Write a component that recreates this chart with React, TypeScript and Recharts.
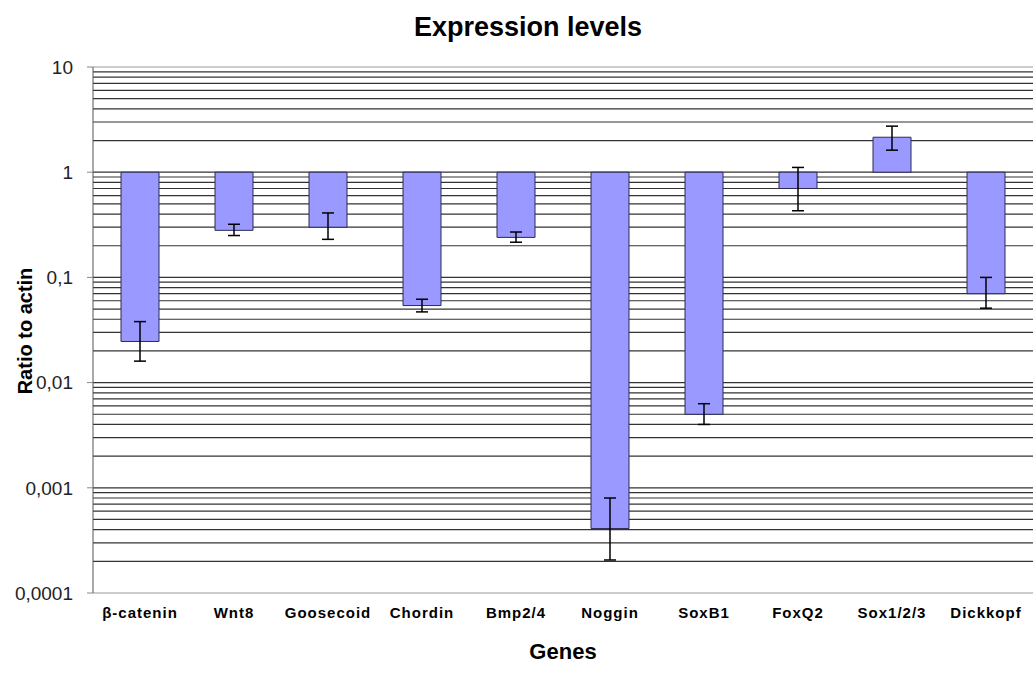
import { ComposedChart, Bar, ErrorBar, XAxis, YAxis, CartesianGrid, ReferenceLine } from "recharts";

const genes = ["β-catenin", "Wnt8", "Goosecoid", "Chordin", "Bmp2/4", "Noggin", "SoxB1", "FoxQ2", "Sox1/2/3", "Dickkopf"];
const ratios = [0.0246, 0.28, 0.30, 0.054, 0.24, 0.00041, 0.0050, 0.70, 2.15, 0.070];
const errLow = [0.016, 0.25, 0.23, 0.047, 0.216, 0.000206, 0.0040, 0.43, 1.62, 0.051];
const errHigh = [0.038, 0.32, 0.41, 0.062, 0.27, 0.0008, 0.0063, 1.11, 2.74, 0.10];

const majorTicks = [0.0001, 0.001, 0.01, 0.1, 1, 10];
const decades = [0.0001, 0.001, 0.01, 0.1, 1];
const multipliers = [1, 2, 3, 4, 5, 6, 7, 8, 9];

// minor gridlines (every 1..9 x decade), the bottom one is the axis itself
const gridValues = decades.flatMap((d) => multipliers.map((m) => m * d)).filter((v) => v > 0.0001);

const data = genes.map((gene, i) => ({
  gene,
  range: [1, ratios[i]],
  err: [ratios[i] - errLow[i], errHigh[i] - ratios[i]],
}));

const fmt = (v: number) => String(v).replace(".", ",");

const YLabel = () => (
  <text x={25} y={331} transform="rotate(-90 25 331)" textAnchor="middle" dominantBaseline="central" fontSize={20} fontWeight="bold" fill="#000">
    Ratio to actin
  </text>
);

export default function App() {
  return (
    <div style={{ position: "absolute", left: 0, top: 0, width: 1034, height: 687, background: "#fff", fontFamily: "'Liberation Sans', Arial, sans-serif" }}>
      <div style={{ position: "absolute", left: 0, width: 1056, top: 12, textAlign: "center", fontSize: 27, fontWeight: "bold", color: "#000" }}>
        Expression levels
      </div>
      <ComposedChart width={1034} height={687} data={data} margin={{ top: 67, right: 1, bottom: 0, left: 0 }} barSize={38}>
        <CartesianGrid vertical={false} horizontalValues={gridValues} stroke="#333" strokeWidth={1.2} />
        <ReferenceLine y={10} stroke="#999" />
        <XAxis
          dataKey="gene"
          height={94}
          tickLine={false}
          axisLine={{ stroke: "#999" }}
          tickMargin={8}
          interval={0}
          tick={{ fontSize: 15, fontWeight: "bold", fill: "#000", letterSpacing: 1 }}
          label={{ value: "Genes", position: "insideBottom", offset: 28, fontSize: 22, fontWeight: "bold", fill: "#000" }}
        />
        <YAxis
          scale="log"
          domain={[0.0001, 10]}
          ticks={majorTicks}
          interval={0}
          allowDataOverflow
          width={93}
          tickSize={6}
          tickMargin={14}
          tickFormatter={fmt}
          tickLine={{ stroke: "#888" }}
          axisLine={{ stroke: "#555" }}
          tick={{ fontSize: 19, fill: "#222" }}
          label={<YLabel />}
        />
        <Bar dataKey="range" fill="#9999ff" stroke="#2b2b55" strokeWidth={1} isAnimationActive={false}>
          <ErrorBar dataKey="err" width={6} stroke="#000" strokeWidth={1.5} direction="y" />
        </Bar>
      </ComposedChart>
    </div>
  );
}
